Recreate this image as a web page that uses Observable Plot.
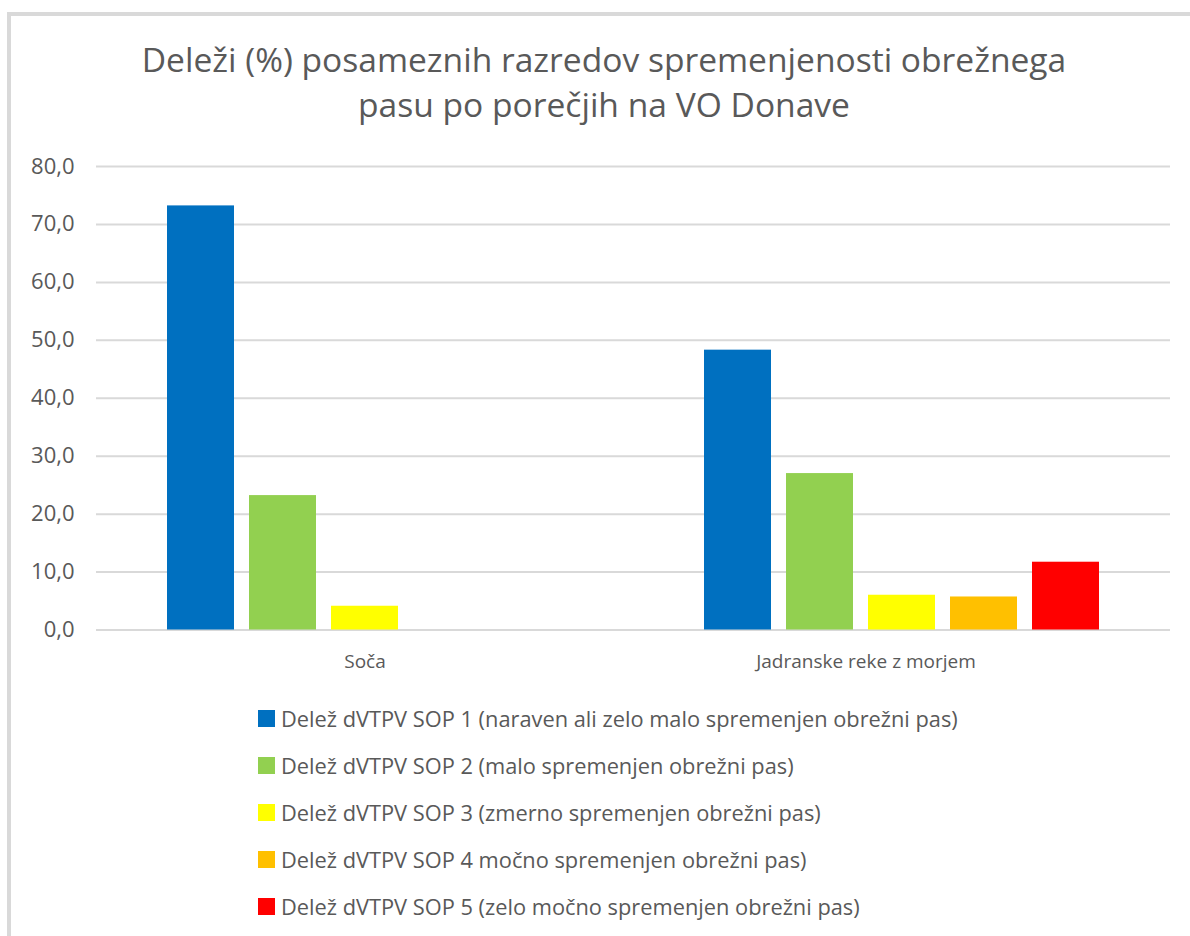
<!DOCTYPE html>
<html><head><meta charset="utf-8">
<script src="https://cdn.jsdelivr.net/npm/d3@7"></script>
<script src="https://cdn.jsdelivr.net/npm/@observablehq/plot@0.6"></script>
<style>
html,body{margin:0;padding:0;background:#fff;}
body{overflow:hidden;width:1190px;height:936px;position:relative;font-family:"Open Sans",Lato,sans-serif;}
#frame{position:absolute;left:7px;top:12px;width:1300px;height:1000px;border:4px solid #d9d9d9;box-sizing:border-box;}
#title{position:absolute;left:0;width:1208px;top:37px;text-align:center;font-size:33.6px;color:#595959;line-height:45px;}
#chart{position:absolute;left:0;top:140px;}
#legend{position:absolute;left:258px;top:695px;}
.item{display:flex;align-items:center;height:47px;font-size:21.8px;color:#595959;}
.sw{width:17px;height:17px;margin-right:6px;}
</style></head>
<body>
<div id="frame"></div>
<div id="title">Deleži (%) posameznih razredov spremenjenosti obrežnega<br>pasu po porečjih na VO Donave</div>
<div id="chart"></div>
<div id="legend"></div>
<script>
const categories = ["Soča", "Jadranske reke z morjem"];
const series = [
  "Delež dVTPV SOP 1 (naraven ali zelo malo spremenjen obrežni pas)",
  "Delež dVTPV SOP 2 (malo spremenjen obrežni pas)",
  "Delež dVTPV SOP 3 (zmerno spremenjen obrežni pas)",
  "Delež dVTPV SOP 4 močno spremenjen obrežni pas)",
  "Delež dVTPV SOP 5 (zelo močno spremenjen obrežni pas)"
];
const colors = ["#0070C0", "#92D050", "#FFFF00", "#FFC000", "#FF0000"];
const socaValues = [73.2, 23.2, 4.1, 0, 0];
const jadranskeValues = [48.3, 27.0, 6.0, 5.7, 11.7];
const yTicks = [0, 10, 20, 30, 40, 50, 60, 70, 80];

const valuesByCategory = [socaValues, jadranskeValues];
const data = [];
categories.forEach((c, ci) => series.forEach((s, si) => data.push({category: c, series: s, value: valuesByCategory[ci][si]})));

const fmt = d => d.toFixed(1).replace(".", ",");

const chart = Plot.plot({
  width: 1190,
  height: 550,
  marginTop: 26,
  marginBottom: 60.5,
  marginLeft: 95,
  marginRight: 20,
  style: {fontFamily: "'Open Sans', Lato, sans-serif", fontSize: "22px", color: "#595959", background: "transparent"},
  fx: {domain: categories, padding: 0, label: null, axis: null},
  x: {domain: series, paddingInner: 0.18, paddingOuter: 0.83, axis: null},
  y: {domain: [0, 80], ticks: yTicks, tickFormat: fmt, label: null, tickSize: 0, tickPadding: 22},
  color: {domain: series, range: colors},
  marks: [
    Plot.gridY(yTicks, {stroke: "#d9d9d9", strokeOpacity: 1, strokeWidth: 2}),
    Plot.barY(data, {fx: "category", x: "series", y: "value", fill: "series"}),
    Plot.text([categories[0]], {fx: d => d, text: d => d, frameAnchor: "bottom", dy: 38, fontSize: 19, fill: "#595959"}),
    Plot.text([categories[1]], {fx: d => d, text: d => d, frameAnchor: "bottom", dy: 38, dx: -36, fontSize: 19, fill: "#595959"})
  ]
});
document.getElementById("chart").appendChild(chart);

const legend = document.getElementById("legend");
series.forEach((s, i) => {
  const row = document.createElement("div");
  row.className = "item";
  const sw = document.createElement("div");
  sw.className = "sw";
  sw.style.background = colors[i];
  const t = document.createElement("span");
  t.textContent = s;
  row.appendChild(sw); row.appendChild(t);
  legend.appendChild(row);
});
</script>
</body></html>
